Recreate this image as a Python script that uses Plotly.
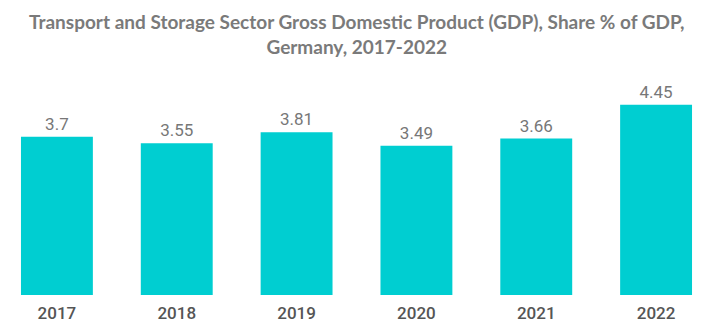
import plotly.graph_objects as go

years = ["2017", "2018", "2019", "2020", "2021", "2022"]
share_pct = [3.7, 3.55, 3.81, 3.49, 3.66, 4.45]
value_labels = ["3.7", "3.55", "3.81", "3.49", "3.66", "4.45"]

fig = go.Figure(
    go.Bar(
        x=years,
        y=share_pct,
        text=value_labels,
        textposition="outside",
        textfont=dict(family="Roboto", size=17, color="#777777"),
        marker=dict(color="#00CED1", line=dict(width=0)),
        width=0.6,
        cliponaxis=False,
    )
)

fig.add_annotation(
    text="<b>Transport and Storage Sector Gross Domestic Product (GDP), Share % of GDP,<br>Germany, 2017-2022</b>",
    x=0.5,
    xref="paper",
    xanchor="center",
    y=1.335,
    yref="paper",
    yanchor="top",
    showarrow=False,
    align="center",
    font=dict(family="Lato", size=19, color="#7a7a7a"),
)

fig.update_layout(
    width=713,
    height=332,
    margin=dict(l=0, r=0, t=80, b=37),
    paper_bgcolor="white",
    plot_bgcolor="white",
    showlegend=False,
    xaxis=dict(
        type="category",
        range=[-0.475, 5.475],
        showgrid=False,
        showline=False,
        ticks="",
        ticklabelstandoff=6,
        tickfont=dict(family="Roboto", size=17, color="#555555", weight=500),
    ),
    yaxis=dict(
        range=[0, 5.03],
        visible=False,
        showgrid=False,
    ),
)

fig.write_html("out.html")
